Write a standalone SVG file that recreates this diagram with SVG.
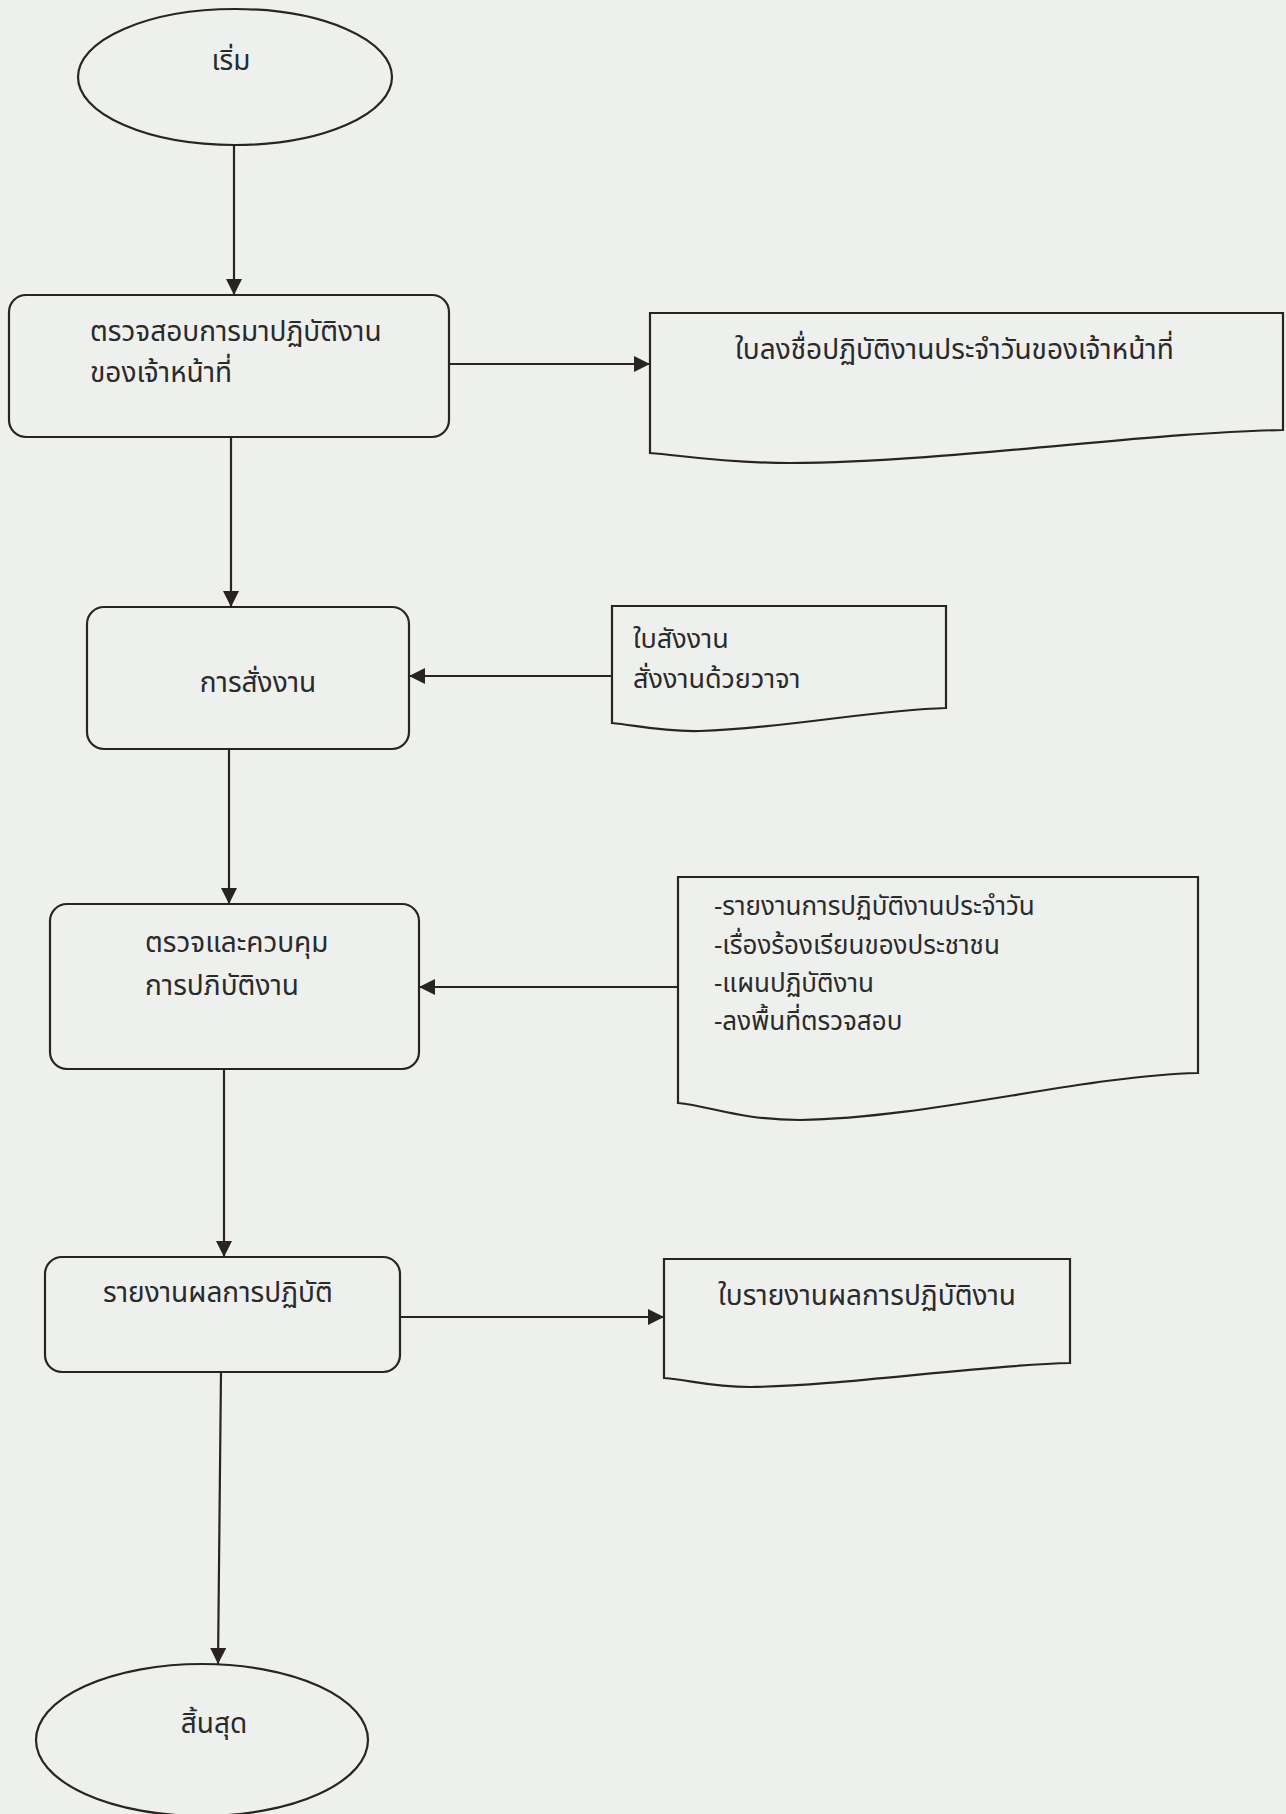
<svg xmlns="http://www.w3.org/2000/svg" width="1286" height="1814" viewBox="0 0 1286 1814">
<defs>
<marker id="ah" viewBox="0 0 10 10" refX="10" refY="5" markerWidth="16" markerHeight="16" markerUnits="userSpaceOnUse" orient="auto">
<path d="M0,0 L10,5 L0,10 z" fill="#2a2323"/>
</marker>
<style>
.shape{fill:none;stroke:#2a2323;stroke-width:2.2}
.conn{fill:none;stroke:#2a2323;stroke-width:2.2;marker-end:url(#ah)}
.t{font-family:"Noto Sans Thai","Noto Sans","DejaVu Sans",sans-serif;font-size:28px;fill:#2a2a2a}
.s{font-size:27px}
.u{font-size:26px}
</style>
</defs>
<rect x="0" y="0" width="1286" height="1814" fill="#eef0ee"/>

<g id="start">
<ellipse class="shape" cx="235" cy="77" rx="157" ry="68"/>
<text class="t" x="231" y="70" text-anchor="middle">เริ่ม</text>
</g>

<g id="check-attendance">
<rect class="shape" x="9" y="295" width="440" height="142" rx="17"/>
<text class="t" x="90" y="341">ตรวจสอบการมาปฏิบัติงาน</text>
<text class="t" x="90" y="382">ของเจ้าหน้าที่</text>
</g>

<g id="doc-attendance">
<path class="shape" d="M650,313 L1283,313 L1283,430 C1150,432 950,462 790,463 C720,463 680,455 650,453 Z"/>
<text class="t" x="735" y="359">ใบลงชื่อปฏิบัติงานประจำวันของเจ้าหน้าที่</text>
</g>

<g id="assign">
<rect class="shape" x="87" y="607" width="322" height="142" rx="17"/>
<text class="t" x="258" y="692" text-anchor="middle">การสั่งงาน</text>
</g>

<g id="doc-assign">
<path class="shape" d="M612,606 L946,606 L946,708 C870,710 790,728 700,731 C660,732 635,725 612,723 Z"/>
<text class="t s" x="633" y="648">ใบสังงาน</text>
<text class="t s" x="633" y="688">สั่งงานด้วยวาจา</text>
</g>

<g id="inspect">
<rect class="shape" x="50" y="904" width="369" height="165" rx="17"/>
<text class="t" x="145" y="952">ตรวจและควบคุม</text>
<text class="t" x="145" y="995">การปภิบัติงาน</text>
</g>

<g id="doc-inspect">
<path class="shape" d="M678,877 L1198,877 L1198,1073 C1080,1076 930,1118 800,1120 C740,1120 710,1106 678,1103 Z"/>
<text class="t u" x="714" y="915">-รายงานการปฏิบัติงานประจำวัน</text>
<text class="t u" x="714" y="954">-เรื่องร้องเรียนของประชาชน</text>
<text class="t u" x="714" y="992">-แผนปฏิบัติงาน</text>
<text class="t u" x="714" y="1030">-ลงพื้นที่ตรวจสอบ</text>
</g>

<g id="report">
<rect class="shape" x="45" y="1257" width="355" height="115" rx="17"/>
<text class="t" x="103" y="1302">รายงานผลการปฏิบัติ</text>
</g>

<g id="doc-report">
<path class="shape" d="M664,1259 L1070,1259 L1070,1363 C980,1365 840,1386 750,1387 C710,1387 690,1380 664,1378 Z"/>
<text class="t" x="718" y="1305">ใบรายงานผลการปฏิบัติงาน</text>
</g>

<g id="end">
<ellipse class="shape" cx="202" cy="1740" rx="166" ry="76"/>
<text class="t" x="214" y="1733" text-anchor="middle">สิ้นสุด</text>
</g>

<g id="connectors">
<line class="conn" x1="234" y1="145" x2="234" y2="295"/>
<line class="conn" x1="449" y1="364" x2="650" y2="364"/>
<line class="conn" x1="231" y1="437" x2="231" y2="607"/>
<line class="conn" x1="612" y1="676" x2="409" y2="676"/>
<line class="conn" x1="229" y1="749" x2="229" y2="904"/>
<line class="conn" x1="678" y1="987" x2="419" y2="987"/>
<line class="conn" x1="224" y1="1069" x2="224" y2="1257"/>
<line class="conn" x1="400" y1="1317" x2="664" y2="1317"/>
<line class="conn" x1="221" y1="1372" x2="218" y2="1664"/>
</g>
</svg>
